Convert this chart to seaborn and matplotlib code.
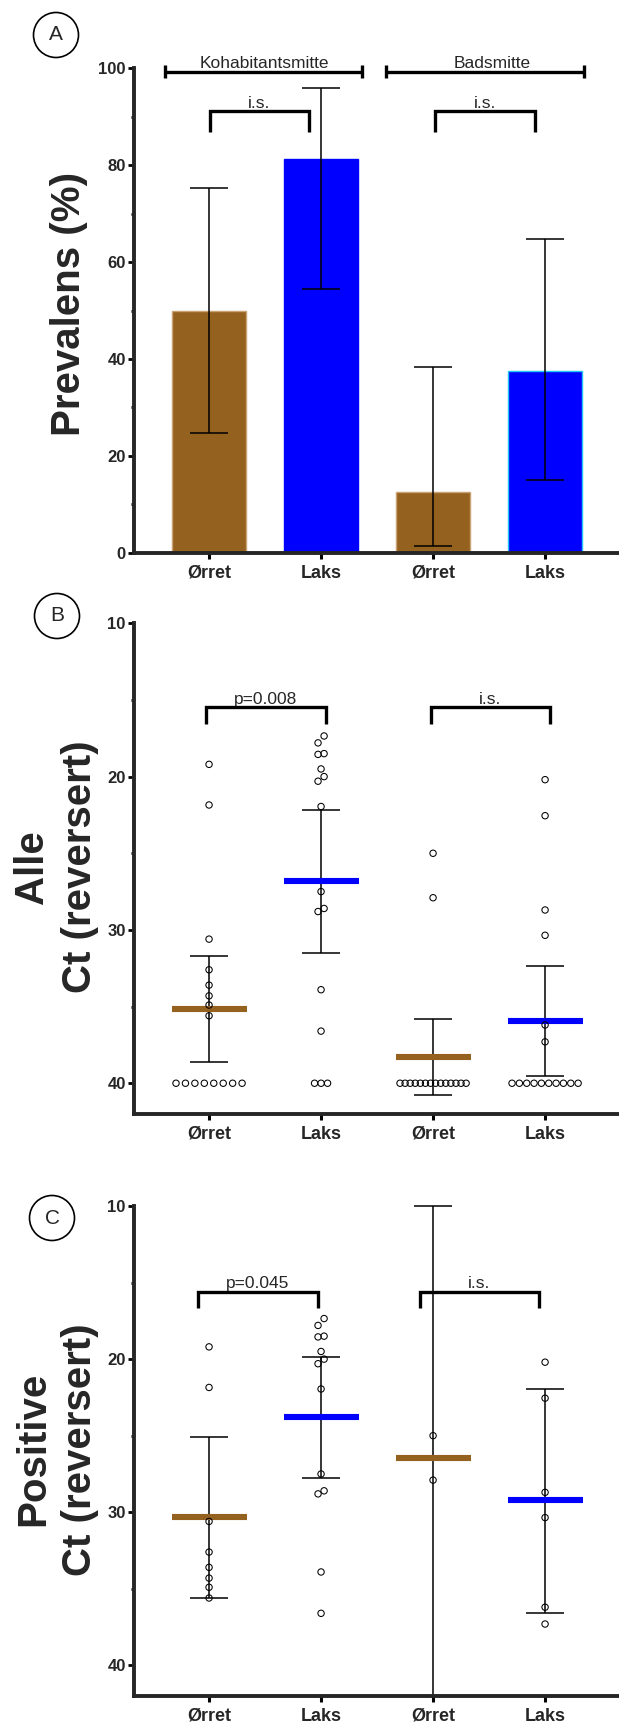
import numpy as np
import pandas as pd
import matplotlib
matplotlib.use("Agg")
import matplotlib.pyplot as plt
import seaborn as sns
from matplotlib.patches import Ellipse

# ---------------- data ----------------
group_keys = ["Ørret K", "Laks K", "Ørret B", "Laks B"]
tick_labels = ["Ørret", "Laks", "Ørret", "Laks"]

prevalence = [50.0, 81.25, 12.5, 37.5]
prev_ci_low = [24.7, 54.4, 1.4, 15.0]
prev_ci_high = [75.3, 96.0, 38.3, 64.7]

ct_orret_kohab = [19.2, 21.85, 30.6, 32.6, 33.6, 34.3, 34.9, 35.6]
ct_laks_kohab = [17.35, 17.8, 18.5, 18.55, 19.5, 20.0, 20.3, 21.95,
                 27.5, 28.6, 28.8, 33.9, 36.6]
ct_orret_bad = [25.0, 27.9]
ct_laks_bad = [20.2, 22.55, 28.7, 30.35, 36.2, 37.3]
n_negative = [8, 3, 14, 10]
ct_negative = 40.0

all_mean = [35.17, 26.84, 38.27, 35.95]
all_ci_low = [31.7, 22.2, 35.8, 32.35]
all_ci_high = [38.6, 31.5, 40.75, 39.5]

pos_mean = [30.33, 23.8, 26.45, 29.22]
pos_ci_low = [25.1, 19.85, 10.0, 21.95]
pos_ci_high = [35.6, 27.75, 42.0, 36.55]

prev_yticks = [0, 20, 40, 60, 80, 100]
ct_yticks = [10, 20, 30, 40]

group_titles = ["Kohabitantsmitte", "Badsmitte"]
sig_prev = ["i.s.", "i.s."]
sig_all = ["p=0.008", "i.s."]
sig_pos = ["p=0.045", "i.s."]
panel_letters = ["A", "B", "C"]

# ---------------- style ----------------
sns.set_style("ticks")
plt.rcParams["font.family"] = ["Liberation Sans", "DejaVu Sans"]

BROWN = "#94611f"
BLUE = "#0000ff"
group_colors = [BROWN, BLUE, BROWN, BLUE]
bar_edges = ["#c9a274", BLUE, "#c9a274", "#22c6f2"]

W, H = 619, 1727
fig = plt.figure(figsize=(W / 100, H / 100), dpi=100)


def px_axes(left, top, right, bottom):
    return fig.add_axes([left / W, 1 - bottom / H, (right - left) / W, (bottom - top) / H])


axA = px_axes(134, 68.3, 619, 552.7)
axB = px_axes(134, 623.3, 619, 1113.9)
axC = px_axes(134, 1206, 619, 1696)

XLIM = (-0.67, 3.66)


def style_axis(ax, yticks, minor):
    for s in ["top", "right"]:
        ax.spines[s].set_visible(False)
    for s in ["left", "bottom"]:
        ax.spines[s].set_linewidth(2.8)
        ax.spines[s].set_zorder(6)
    ax.set_xlim(*XLIM)
    ax.set_xticks(range(len(tick_labels)), labels=tick_labels,
                  fontweight="bold", fontsize=13)
    ax.set_yticks(yticks, labels=[str(v) for v in yticks],
                  fontweight="bold", fontsize=12)
    ax.set_yticks(minor, minor=True)
    ax.tick_params(axis="x", length=4.5, width=2.2, pad=4, color="black")
    ax.tick_params(axis="y", which="major", length=4, width=2.0, pad=2, color="black")
    ax.tick_params(axis="y", which="minor", length=2.5, width=2.0, color="black")
    ax.set_xlabel("")
    ax.set_ylabel("")
    ax.grid(False)


def bracket(ax, x0, x1, ytop, ybot, text, tbase, lw=2.4):
    ax.plot([x0, x0, x1, x1], [ybot, ytop, ytop, ybot], color="black", lw=lw,
            solid_joinstyle="miter", solid_capstyle="butt", clip_on=False, zorder=7)
    ax.text((x0 + x1) / 2, tbase, text, ha="center", va="baseline",
            fontsize=12.5, clip_on=False)


def offsets(values):
    vals = np.asarray(values, float)
    order = np.argsort(vals, kind="stable")
    offs = np.zeros(len(vals))
    clusters, cur = [], [order[0]]
    for a, b in zip(order[:-1], order[1:]):
        if vals[b] - vals[a] < 0.46:
            cur.append(b)
        else:
            clusters.append(cur)
            cur = [b]
    clusters.append(cur)
    for c in clusters:
        k = len(c)
        if k == 1:
            continue
        if k == 2:
            pos = np.array([0.027, -0.027])
        else:
            step = 0.058 if k <= 4 else 0.59 / (k - 1)
            pos = (np.arange(k) - (k - 1) / 2) * step
        offs[c] = pos
    return offs


# ---------------- panel A ----------------
dfA = pd.DataFrame({"group": group_keys, "prev": prevalence})
sns.barplot(data=dfA, x="group", y="prev", hue="group", order=group_keys,
            hue_order=group_keys, palette=group_colors, legend=False,
            width=0.66, errorbar=None, saturation=1, ax=axA, zorder=2)
for patch, ec in zip(axA.patches, bar_edges):
    patch.set_edgecolor(ec)
    patch.set_linewidth(1.0)
xA = np.arange(len(group_keys))
axA.errorbar(xA, prevalence,
             yerr=[np.subtract(prevalence, prev_ci_low), np.subtract(prev_ci_high, prevalence)],
             fmt="none", ecolor="black", elinewidth=1.1, capsize=13.5, capthick=1.1, zorder=3)
axA.set_ylim(0, 100)
style_axis(axA, prev_yticks, [10, 30, 50, 70, 90])

# group brackets
for (x0, x1), title, tx in zip([(-0.39, 1.37), (1.58, 3.35)], group_titles, [0.49, 2.53]):
    axA.plot([x0, x1], [99.3, 99.3], color="black", lw=2.4, clip_on=False,
             solid_capstyle="butt", zorder=7)
    for xe in (x0, x1):
        axA.plot([xe, xe], [98.0, 100.6], color="black", lw=2.4, clip_on=False,
                 solid_capstyle="butt", zorder=7)
    axA.text(tx, 100.1, title, ha="center", va="baseline", fontsize=12.5, clip_on=False)
bracket(axA, 0.01, 0.89, 91.2, 86.9, sig_prev[0], 91.9)
bracket(axA, 2.02, 2.91, 91.2, 86.9, sig_prev[1], 91.9)

# ---------------- panels B and C ----------------
pos_sets = [ct_orret_kohab, ct_laks_kohab, ct_orret_bad, ct_laks_bad]


def ct_panel(ax, include_neg, means, lo, hi, sig, geom):
    rows = []
    for i, (vals, nneg) in enumerate(zip(pos_sets, n_negative)):
        v = list(vals) + ([ct_negative] * nneg if include_neg else [])
        off = offsets(v)
        for val, o in zip(v, off):
            rows.append({"x": i + o, "ct": val})
    df = pd.DataFrame(rows)
    xs = np.arange(len(group_keys))
    ax.errorbar(xs, means, yerr=[np.subtract(means, lo), np.subtract(hi, means)],
                fmt="none", ecolor="black", elinewidth=1.1, capsize=13.5, capthick=1.1,
                zorder=2, clip_on=False)
    ax.hlines(means, xs - 0.335, xs + 0.335, colors=group_colors, lw=4.4, zorder=3)
    sns.scatterplot(data=df, x="x", y="ct", ax=ax, marker="o", s=21,
                    facecolor="none", edgecolor="black", linewidth=0.75,
                    zorder=5, legend=False)
    ax.set_ylim(42, 10)
    style_axis(ax, ct_yticks, [15, 25, 35])
    (a0, a1, b0, b1, ytop, ybot, tb) = geom
    bracket(ax, a0, a1, ytop, ybot, sig[0], tb)
    bracket(ax, b0, b1, ytop, ybot, sig[1], tb)


ct_panel(axB, True, all_mean, all_ci_low, all_ci_high, sig_all,
         (-0.03, 1.04, 1.98, 3.04, 15.48, 16.6, 15.25))
ct_panel(axC, False, pos_mean, pos_ci_low, pos_ci_high, sig_pos,
         (-0.10, 0.97, 1.88, 2.95, 15.6, 16.65, 15.35))

# ---------------- y labels ----------------
LBL = dict(rotation=90, rotation_mode="anchor", ha="center", va="baseline",
           fontsize=29, fontweight="bold")
fig.text(80 / W, 1 - 304 / H, "Prevalens (%)", **LBL)
fig.text(43.5 / W, 1 - 867 / H, "Alle", **LBL)
fig.text(91 / W, 1 - 867 / H, "Ct (reversert)", **LBL)
fig.text(44.5 / W, 1 - 1449 / H, "Positive", **LBL)
fig.text(91 / W, 1 - 1450 / H, "Ct (reversert)", **LBL)

# ---------------- panel letters ----------------
for letter, (cx, cy) in zip(panel_letters, [(56, 35), (57, 616), (52, 1218)]):
    fig.add_artist(Ellipse((cx / W, 1 - cy / H), 45 / W, 45 / H,
                           transform=fig.transFigure, fill=False,
                           edgecolor="black", lw=1.2))
    fig.text(cx / W, 1 - cy / H, letter, ha="center", va="center", fontsize=15)

fig.savefig("out.png", dpi=100)
